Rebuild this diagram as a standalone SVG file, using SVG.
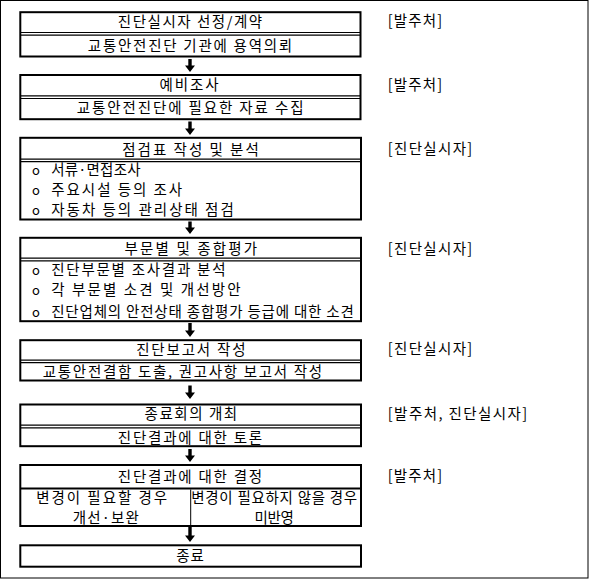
<svg xmlns="http://www.w3.org/2000/svg" width="589" height="579" viewBox="0 0 589 579">
<style>
.frame{fill:#fff;stroke:#000;stroke-width:1}
.box{fill:#fff;stroke:#000;stroke-width:2}
.sep{stroke:#000;stroke-width:1.2;fill:none}
.sep2{stroke:#000;stroke-width:2;fill:none}
.div{stroke:#000;stroke-width:1;fill:none}
.arrow{fill:#000;stroke:none}
text{font-family:"Noto Sans CJK KR","Noto Sans",sans-serif;font-size:14.5px;fill:#000}
.bul{font-size:13px}
</style>
<rect class="frame" x="0.5" y="0.5" width="587.5" height="577.5"/>

<g id="connectors">
<path class="arrow" d="M188.3,59 H191.7 V65.5 H195 L190,72 L185,65.5 H188.3 Z"/>
<path class="arrow" d="M188.3,121.5 H191.7 V128.5 H195 L190,135 L185,128.5 H188.3 Z"/>
<path class="arrow" d="M188.3,221.5 H191.7 V227.5 H195 L190,234 L185,227.5 H188.3 Z"/>
<path class="arrow" d="M188.3,323 H191.7 V330.5 H195 L190,337 L185,330.5 H188.3 Z"/>
<path class="arrow" d="M188.3,385.5 H191.7 V392.5 H195 L190,399 L185,392.5 H188.3 Z"/>
<path class="arrow" d="M188.3,449 H191.7 V455.5 H195 L190,462 L185,455.5 H188.3 Z"/>
<path class="arrow" d="M188.3,527 H191.7 V535.5 H195 L190,542 L185,535.5 H188.3 Z"/>
</g>

<g id="node1">
<rect class="box" x="20.3" y="12.2" width="340.2" height="44.3"/>
<line class="sep" x1="20.3" y1="32.5" x2="360.5" y2="32.5"/>
<line class="sep" x1="20.3" y1="35.2" x2="360.5" y2="35.2"/>
<text x="117.8" y="27" textLength="144.4" lengthAdjust="spacing">진단실시자 선정/계약</text>
<text x="87.8" y="50.8" textLength="204.4" lengthAdjust="spacing">교통안전진단 기관에 용역의뢰</text>
</g>

<g id="node2">
<rect class="box" x="20.3" y="75" width="340.2" height="44.2"/>
<line class="sep" x1="20.3" y1="95.8" x2="360.5" y2="95.8"/>
<line class="sep" x1="20.3" y1="98.5" x2="360.5" y2="98.5"/>
<text x="159.5" y="90.3" textLength="59" lengthAdjust="spacing">예비조사</text>
<text x="76.8" y="112.8" textLength="226.7" lengthAdjust="spacing">교통안전진단에 필요한 자료 수집</text>
</g>

<g id="node3">
<rect class="box" x="20.3" y="137.8" width="340.7" height="81.7"/>
<line class="sep" x1="20.3" y1="159.2" x2="361" y2="159.2"/>
<line class="sep" x1="20.3" y1="161.7" x2="361" y2="161.7"/>
<text x="122.2" y="155.3" textLength="136.6" lengthAdjust="spacing">점검표 작성 및 분석</text>
<text class="bul" x="32" y="175.4">o</text>
<text x="51.2" y="175.3" textLength="89.3" lengthAdjust="spacing">서류·면접조사</text>
<text class="bul" x="32" y="195.4">o</text>
<text x="51.2" y="195.3" textLength="131" lengthAdjust="spacing">주요시설 등의 조사</text>
<text class="bul" x="32" y="215.4">o</text>
<text x="51.2" y="215.3" textLength="182.6" lengthAdjust="spacing">자동차 등의 관리상태 점검</text>
</g>

<g id="node4">
<rect class="box" x="20.3" y="237.8" width="340.7" height="83.4"/>
<line class="sep" x1="20.3" y1="258.2" x2="361" y2="258.2"/>
<line class="sep" x1="20.3" y1="260.8" x2="361" y2="260.8"/>
<text x="124.5" y="253.6" textLength="132.7" lengthAdjust="spacing">부문별 및 종합평가</text>
<text class="bul" x="32" y="275.4">o</text>
<text x="51.2" y="275.3" textLength="174.3" lengthAdjust="spacing">진단부문별 조사결과 분석</text>
<text class="bul" x="32" y="295.4">o</text>
<text x="51.2" y="295.3" textLength="189.3" lengthAdjust="spacing">각 부문별 소견 및 개선방안</text>
<text class="bul" x="32" y="317">o</text>
<text x="51.2" y="317" textLength="302.6" lengthAdjust="spacing">진단업체의 안전상태 종합평가 등급에 대한 소견</text>
</g>

<g id="node5">
<rect class="box" x="20.3" y="340.2" width="340.7" height="40.3"/>
<line class="sep" x1="20.3" y1="360.2" x2="361" y2="360.2"/>
<line class="sep" x1="20.3" y1="362.7" x2="361" y2="362.7"/>
<text x="136.2" y="355.3" textLength="109.3" lengthAdjust="spacing">진단보고서 작성</text>
<text x="42.8" y="377" textLength="279.4" lengthAdjust="spacing">교통안전결함 도출, 권고사항 보고서 작성</text>
</g>

<g id="node6">
<rect class="box" x="20.3" y="404.5" width="340.7" height="41.7"/>
<line class="sep" x1="20.3" y1="425.2" x2="361" y2="425.2"/>
<line class="sep" x1="20.3" y1="427.8" x2="361" y2="427.8"/>
<text x="144.5" y="418.6" textLength="92.7" lengthAdjust="spacing">종료회의 개최</text>
<text x="117.8" y="442.5" textLength="144.4" lengthAdjust="spacing">진단결과에 대한 토론</text>
</g>

<g id="node7">
<rect class="box" x="20.3" y="465" width="340.7" height="61"/>
<line class="sep2" x1="20.3" y1="488.5" x2="361" y2="488.5"/>
<line class="div" x1="190.7" y1="489.5" x2="190.7" y2="526"/>
<text x="117.8" y="482" textLength="144.4" lengthAdjust="spacing">진단결과에 대한 결정</text>
<text x="36.2" y="502.8" textLength="131" lengthAdjust="spacing">변경이 필요할 경우</text>
<text x="72.8" y="522.8" textLength="66" lengthAdjust="spacing">개선·보완</text>
<text x="191.2" y="502.8" textLength="166" lengthAdjust="spacing">변경이 필요하지 않을 경우</text>
<text x="254.5" y="522.8" textLength="39.3" lengthAdjust="spacing">미반영</text>
</g>

<g id="node8">
<rect class="box" x="20.3" y="545.3" width="340.7" height="21.4"/>
<text x="176.2" y="561.1" textLength="27.6" lengthAdjust="spacing">종료</text>
</g>

<g id="roles">
<text x="387.8" y="26" textLength="54.4" lengthAdjust="spacing">[발주처]</text>
<text x="387.8" y="90.3" textLength="54.4" lengthAdjust="spacing">[발주처]</text>
<text x="387.8" y="153.6" textLength="84.4" lengthAdjust="spacing">[진단실시자]</text>
<text x="387.8" y="253.6" textLength="84.4" lengthAdjust="spacing">[진단실시자]</text>
<text x="387.8" y="353.6" textLength="84.4" lengthAdjust="spacing">[진단실시자]</text>
<text x="387.8" y="418.6" textLength="139.4" lengthAdjust="spacing">[발주처, 진단실시자]</text>
<text x="387.8" y="480.8" textLength="54.4" lengthAdjust="spacing">[발주처]</text>
</g>
</svg>
